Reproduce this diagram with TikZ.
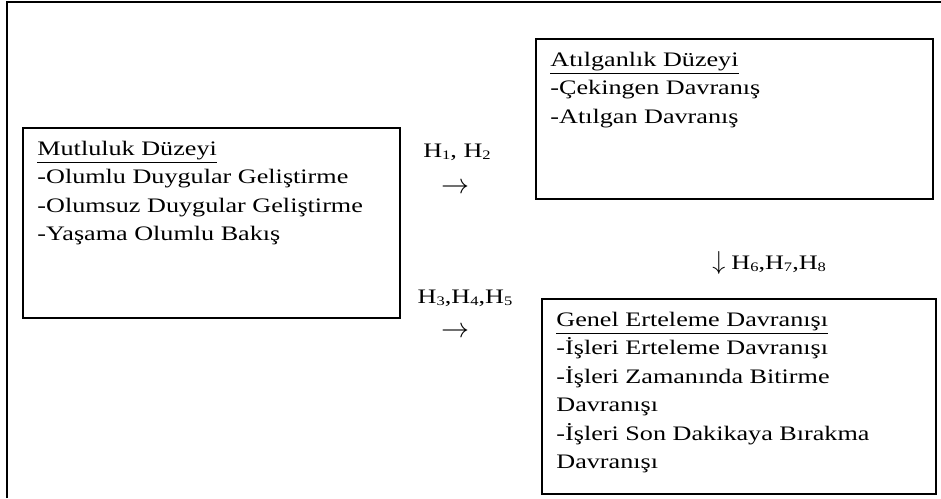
\documentclass[tikz,border=0pt]{standalone}
\usepackage{fontspec}
\setmainfont{Liberation Serif}[FakeStretch=1.27]
\newcommand{\hsub}[1]{\raisebox{-0.25ex}{\fontsize{6.5pt}{6.5pt}\selectfont #1}}
\begin{document}
\begin{tikzpicture}[x=0.5pt,y=-0.5pt,
    kutu/.style={draw,line width=1pt,anchor=north west,inner sep=0pt},
    yazi/.style={anchor=north west,inner sep=0pt,align=left,font=\fontsize{10.3pt}{14.25pt}\selectfont},
    etiket/.style={inner sep=0pt,font=\fontsize{10.3pt}{14.25pt}\selectfont}]
    \useasboundingbox (0,0) rectangle (941,498);
    \draw[line width=1pt] (7,498)--(7,2)--(941,2);
    \node[kutu,minimum width=188.5pt,minimum height=95pt] (mutluluk) at (22,127) {};
    \node[kutu,minimum width=198.5pt,minimum height=80pt] (atilgan) at (535,38) {};
    \node[kutu,minimum width=197pt,minimum height=97.5pt] (genel) at (541,298) {};
    \node[yazi] (mutlulukyazi) at ([xshift=7.5pt,yshift=-4pt]mutluluk.north west)
        {\strut\underline{Mutluluk Düzeyi}\\\strut-Olumlu Duygular Geliştirme\\\strut-Olumsuz Duygular Geliştirme\\\strut-Yaşama Olumlu Bakış};
    \node[yazi] (atilganyazi) at ([xshift=7.5pt,yshift=-4pt]atilgan.north west)
        {\strut\underline{Atılganlık Düzeyi}\\\strut-Çekingen Davranış\\\strut-Atılgan Davranış};
    \node[yazi] (genelyazi) at ([xshift=7.5pt,yshift=-4pt]genel.north west)
        {\strut\underline{Genel Erteleme Davranışı}\\\strut-İşleri Erteleme Davranışı\\\strut-İşleri Zamanında Bitirme\\\strut Davranışı\\\strut-İşleri Son Dakikaya Bırakma\\\strut Davranışı};
    \node[etiket] (h12) at (457,152) {H\hsub{1}, H\hsub{2}};
    \node[etiket] (ok1) at (455,188) {\scalebox{1.4}{$\rightarrow$}};
    \node[etiket] (h345) at (465,298) {H\hsub{3},H\hsub{4},H\hsub{5}};
    \node[etiket] (ok2) at (455,332) {\scalebox{1.4}{$\rightarrow$}};
    \node[etiket,anchor=west] (h678) at (712,263) {\scalebox{1.3}{$\downarrow$}\hspace{3pt}H\hsub{6},H\hsub{7},H\hsub{8}};
\end{tikzpicture}
\end{document}
